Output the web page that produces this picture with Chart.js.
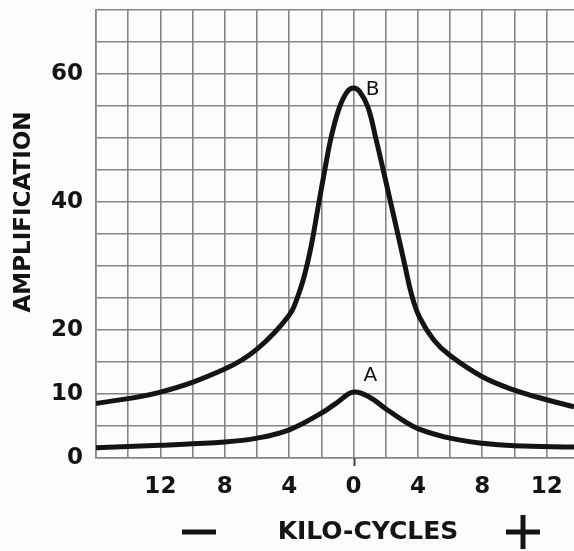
<!DOCTYPE html>
<html>
<head>
<meta charset="utf-8">
<script src="https://cdn.jsdelivr.net/npm/chart.js@4/dist/chart.umd.min.js"></script>
<style>
  html, body { margin: 0; padding: 0; background: #fcfcfc; }
  #wrap { width: 574px; height: 551px; position: relative; }
</style>
</head>
<body>
<div id="wrap"><canvas id="c" width="574" height="551"></canvas></div>
<script>
// Curve B (upper) — kilocycles off resonance vs amplification
const kcB  = [-16, -12, -8, -6, -4, -3.4, -3, -2.6, -2.2, -1.8, -1.4, -0.9, -0.4, 0, 0.4, 0.9, 1.4, 1.8, 2.3, 2.8, 3.2, 3.6, 4.1, 5, 6, 8, 10, 12, 13.7];
const ampB = [8.5, 10.3, 13.9, 17.0, 22.3, 25.7, 29, 33.5, 39.2, 44.8, 50.0, 54.6, 57.2, 57.8, 57.2, 54.8, 49.8, 45.5, 40.0, 34.5, 30, 25.6, 22.0, 18.4, 16.0, 12.7, 10.6, 9.1, 8.0];
// Curve A (lower)
const kcA  = [-16, -12, -8, -6, -4, -2, -1, 0, 1, 2, 3, 4, 6, 8, 10, 13.7];
const ampA = [1.6, 2.0, 2.5, 3.1, 4.4, 7.0, 8.7, 10.3, 9.5, 7.7, 6.0, 4.6, 3.1, 2.3, 1.9, 1.7];

// Tick labels
const xTickValues = [-12, -8, -4, 0, 4, 8, 12];
const xTickLabels = ['12', '8', '4', '0', '4', '8', '12'];
const yTickValues = [0, 10, 20, 40, 60];
const yTickLabels = ['0', '10', '20', '40', '60'];

// Curve labels
const curveLabels = [
  { text: 'B', x: 1.18, y: 57.6 },
  { text: 'A', x: 1.05, y: 12.8 }
];

const xTitle = 'KILO-CYCLES';
const yTitle = 'AMPLIFICATION';

const toPts = (xs, ys) => xs.map((x, i) => ({ x: x, y: ys[i] }));

const ink = '#141414';
const gridColor = '#858585';
const fontFam = '"DejaVu Sans", sans-serif';

const decor = {
  id: 'decor',
  afterDatasetsDraw(chart) {
    const ctx = chart.ctx;
    const xs = chart.scales.x, ys = chart.scales.y;
    const ca = chart.chartArea;
    ctx.save();
    // tick below the zero line
    ctx.strokeStyle = '#444';
    ctx.lineWidth = 2;
    const x0 = Math.round(xs.getPixelForValue(0)) + 0.5;
    ctx.beginPath();
    ctx.moveTo(x0, ca.bottom);
    ctx.lineTo(x0, ca.bottom + 8);
    ctx.stroke();

    // curve labels
    ctx.fillStyle = ink;
    ctx.font = '20px ' + fontFam;
    ctx.textAlign = 'center';
    ctx.textBaseline = 'middle';
    curveLabels.forEach(l => {
      ctx.fillText(l.text, xs.getPixelForValue(l.x), ys.getPixelForValue(l.y));
    });

    // y title
    ctx.font = 'bold 23px ' + fontFam;
    ctx.save();
    ctx.translate(ca.left - 72, ca.top + 202);
    ctx.rotate(-Math.PI / 2);
    ctx.textAlign = 'center';
    ctx.textBaseline = 'middle';
    ctx.fillText(yTitle, 0, 0);
    ctx.restore();

    // x title with − and +
    const ty = ca.bottom + 74;
    ctx.font = 'bold 25px ' + fontFam;
    ctx.textAlign = 'center';
    ctx.textBaseline = 'middle';
    ctx.fillText(xTitle, ca.left + 272, ty);
    // minus bar
    ctx.fillRect(ca.left + 86, ty - 2.5, 34, 5);
    // plus sign
    const px = ca.left + 427;
    ctx.fillRect(px - 17, ty - 2.5, 34, 5);
    ctx.fillRect(px - 2.5, ty - 17, 5, 34);
    ctx.restore();
  }
};

new Chart(document.getElementById('c'), {
  type: 'scatter',
  data: {
    datasets: [
      { label: 'B', data: toPts(kcB, ampB), showLine: true, borderColor: ink, borderWidth: 5, pointRadius: 0, tension: 0.4, fill: false },
      { label: 'A', data: toPts(kcA, ampA), showLine: true, borderColor: ink, borderWidth: 5, pointRadius: 0, tension: 0.4, fill: false }
    ]
  },
  options: {
    responsive: false,
    animation: false,
    layout: { padding: { top: 10, right: 0, left: 0, bottom: 0 } },
    plugins: { legend: { display: false }, tooltip: { enabled: false } },
    scales: {
      x: {
        type: 'linear',
        min: -16,
        max: 13.7,
        afterBuildTicks: (s) => {
          const t = [];
          for (let v = -16; v <= 12; v += 2) t.push({ value: v });
          s.ticks = t;
        },
        afterFit: (s) => { s.height = 93; s.paddingLeft = 0; s.paddingRight = 0; },
        grid: { color: gridColor, lineWidth: 1.6, drawTicks: false },
        border: { display: true, color: gridColor, width: 1.6 },
        ticks: {
          color: ink,
          padding: 15,
          maxRotation: 0,
          autoSkip: false,
          font: { family: fontFam, size: 23, weight: 'bold' },
          callback: (v) => { const i = xTickValues.indexOf(v); return i >= 0 ? xTickLabels[i] : ''; }
        }
      },
      y: {
        type: 'linear',
        min: 0,
        max: 70,
        afterBuildTicks: (s) => {
          const t = [];
          for (let v = 0; v <= 70; v += 5) t.push({ value: v });
          s.ticks = t;
        },
        afterFit: (s) => { s.width = 96; s.paddingTop = 0; s.paddingBottom = 0; },
        grid: { color: gridColor, lineWidth: 1.6, drawTicks: false },
        border: { display: true, color: gridColor, width: 1.6 },
        ticks: {
          color: ink,
          padding: 13,
          autoSkip: false,
          font: { family: fontFam, size: 23, weight: 'bold' },
          callback: (v) => { const i = yTickValues.indexOf(v); return i >= 0 ? yTickLabels[i] : ''; }
        }
      }
    }
  },
  plugins: [decor]
});
</script>
</body>
</html>
